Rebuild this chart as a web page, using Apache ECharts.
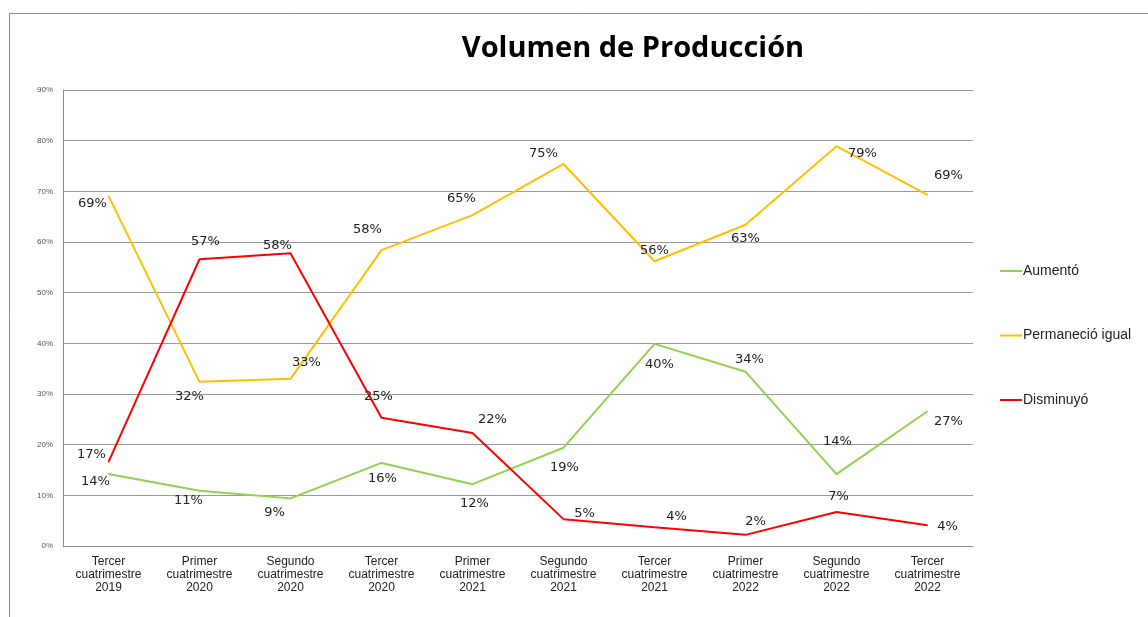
<!DOCTYPE html>
<html>
<head>
<meta charset="utf-8">
<script src="https://cdn.jsdelivr.net/npm/echarts@6/dist/echarts.min.js"></script>
<style>
  html, body { margin: 0; padding: 0; background: #fff; }
  #chart { width: 1148px; height: 617px; }
</style>
</head>
<body>
<div id="chart"></div>
<script>
const categories = [
  "Tercer\ncuatrimestre\n2019", "Primer\ncuatrimestre\n2020", "Segundo\ncuatrimestre\n2020",
  "Tercer\ncuatrimestre\n2020", "Primer\ncuatrimestre\n2021", "Segundo\ncuatrimestre\n2021",
  "Tercer\ncuatrimestre\n2021", "Primer\ncuatrimestre\n2022", "Segundo\ncuatrimestre\n2022",
  "Tercer\ncuatrimestre\n2022"
];
const aumento = [14.2, 10.9, 9.4, 16.4, 12.2, 19.4, 39.9, 34.4, 14.2, 26.6];
const permanecio = [69.1, 32.4, 33.0, 58.4, 65.3, 75.4, 56.2, 63.4, 78.9, 69.3];
const disminuyo = [16.6, 56.6, 57.8, 25.3, 22.3, 5.3, 3.7, 2.2, 6.7, 4.1];

// where Excel put each data label, relative to its point (px)
const labelOffsets = [
  [[-13, 8], [-11, 10], [-16, 14], [1, 16], [2, 19], [1, 20], [5, 21], [4, -12], [1, -32], [21, 10]],
  [[-16, 8], [-10, 15], [16, -16], [-14, -20], [-11, -17], [-20, -10], [0, -11], [0, 14], [26, 7], [21, -19]],
  [[-17, -7], [6, -18], [-13, -8], [-3, -21], [20, -13], [21, -6], [22, -11], [10, -13], [2, -15], [20, 1]],
];

const chart = echarts.init(document.getElementById("chart"));

function lineSeries(name, values, color) {
  return {
    name: name,
    type: "line",
    data: values,
    symbol: "circle",
    symbolSize: 1,
    showSymbol: true,
    lineStyle: { color: color, width: 2 },
    itemStyle: { color: color },
    label: {
      show: true,
      position: "inside",
      formatter: (p) => Math.round(p.value) + "%",
      fontFamily: "DejaVu Sans",
      fontSize: 13,
      color: "#222",
    },
    labelLayout: (p) => {
      const o = labelOffsets[p.seriesIndex][p.dataIndex];
      return { dx: o[0], dy: o[1], hideOverlap: false };
    },
    emphasis: { disabled: true },
  };
}

chart.setOption({
  animation: false,
  title: {
    text: "Volumen de Producción",
    left: 628,
    top: 29,
    textAlign: "center",
    textStyle: {
      fontFamily: "Open Sans",
      fontWeight: "bold",
      fontSize: 29,
      color: "#000",
    },
  },
  graphic: [
    {
      type: "rect",
      shape: { x: 9.5, y: 13.5, width: 1300, height: 700 },
      style: { fill: "none", stroke: "#8c8c8c", lineWidth: 1 },
      silent: true,
    },
  ],
  legend: {
    orient: "vertical",
    left: 1000,
    top: 264,
    itemWidth: 22,
    itemHeight: 2,
    itemGap: 50.5,
    icon: "rect",
    padding: 0,
    textStyle: { fontFamily: "Liberation Sans", fontSize: 14, color: "#222", padding: [0, 0, 0, -4] },
    data: ["Aumentó", "Permaneció igual", "Disminuyó"],
  },
  grid: { left: 63, top: 90, width: 910, bottom: 71 },
  xAxis: {
    type: "category",
    data: categories,
    boundaryGap: true,
    axisLine: { lineStyle: { color: "#8c8c8c" } },
    axisTick: { show: false },
    axisLabel: {
      interval: 0,
      fontFamily: "Liberation Sans",
      fontSize: 12,
      lineHeight: 13,
      color: "#222",
      margin: 9,
    },
  },
  yAxis: {
    type: "value",
    min: 0,
    max: 90,
    interval: 10,
    axisLine: { show: true, lineStyle: { color: "#8c8c8c" } },
    axisTick: { show: false },
    splitLine: { lineStyle: { color: "#9a9a9a" } },
    axisLabel: {
      formatter: "{value}%",
      fontFamily: "Liberation Sans",
      fontSize: 8,
      color: "#555",
      margin: 10,
    },
  },
  series: [
    lineSeries("Aumentó", aumento, "#92d050"),
    lineSeries("Permaneció igual", permanecio, "#ffc000"),
    lineSeries("Disminuyó", disminuyo, "#ff0000"),
  ],
});
</script>
</body>
</html>
